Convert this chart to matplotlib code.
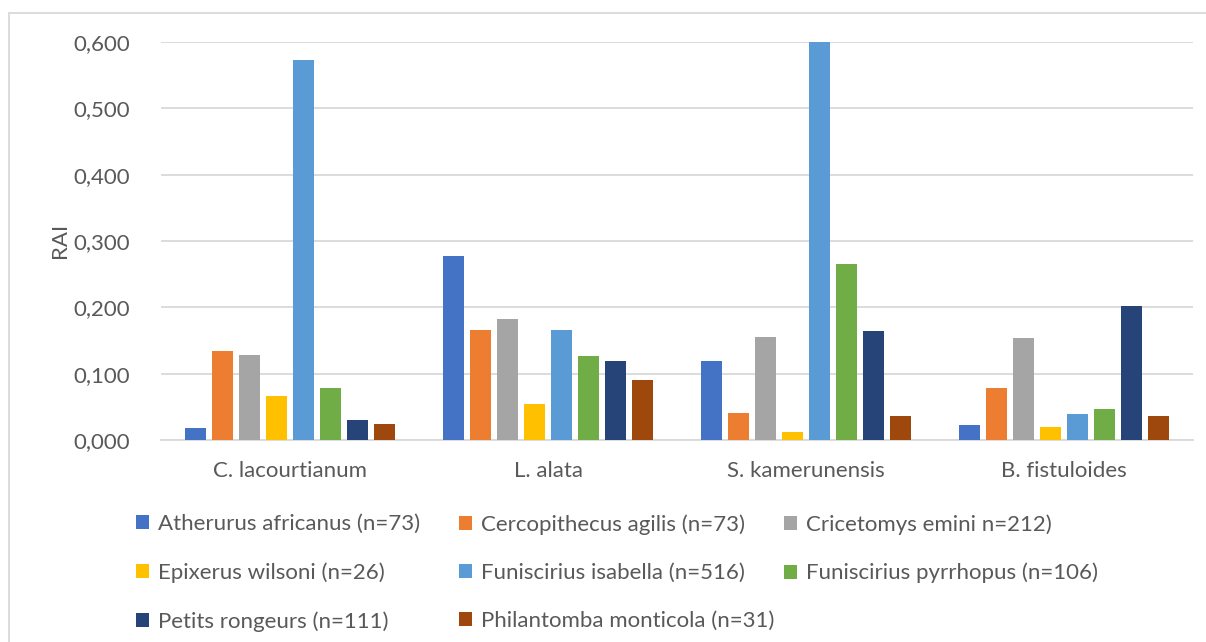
import numpy as np
import matplotlib
matplotlib.use('Agg')
from matplotlib import pyplot as plt
from matplotlib.patches import Rectangle
from matplotlib.ticker import FuncFormatter

plt.rcParams['font.family'] = ['Lato', 'DejaVu Sans']

TEXT_COLOR = '#595959'
GRID_COLOR = '#D9D9D9'

sites = ['C. lacourtianum', 'L. alata', 'S. kamerunensis', 'B. fistuloides']
species = ['Atherurus africanus (n=73)', 'Cercopithecus agilis (n=73)',
           'Cricetomys emini n=212)', 'Epixerus wilsoni (n=26)',
           'Funiscirius isabella (n=516)', 'Funiscirius pyrrhopus (n=106)',
           'Petits rongeurs (n=111)', 'Philantomba monticola (n=31)']
colors = ['#4472C4', '#ED7D31', '#A5A5A5', '#FFC000',
          '#5B9BD5', '#70AD47', '#264478', '#9E480E']

# RAI per species, one value per site (same order as sites)
atherurus = [0.018, 0.277, 0.119, 0.023]
cercopithecus = [0.134, 0.166, 0.040, 0.079]
cricetomys = [0.128, 0.182, 0.155, 0.154]
epixerus = [0.066, 0.055, 0.012, 0.019]
fun_isabella = [0.573, 0.166, 0.615, 0.039]
fun_pyrrhopus = [0.079, 0.126, 0.266, 0.047]
petits_rongeurs = [0.030, 0.119, 0.164, 0.202]
philantomba = [0.024, 0.091, 0.036, 0.036]

series = [atherurus, cercopithecus, cricetomys, epixerus,
          fun_isabella, fun_pyrrhopus, petits_rongeurs, philantomba]

fig = plt.figure(figsize=(12.06, 6.42), dpi=100)
W, H = 1206, 642
ax = fig.add_axes([161 / W, 1 - 440 / H, 1032 / W, 398 / H])

pitch = 27 / 258
width = 21.5 / 258
x = np.arange(len(sites))
handles = []
for i, (vals, col, lab) in enumerate(zip(series, colors, species)):
    off = (i - (len(series) - 1) / 2) * pitch
    b = ax.bar(x + off, vals, width=width, color=col, label=lab, zorder=3)
    handles.append(b)

ax.set_xlim(-0.5, len(sites) - 0.5)
ax.set_ylim(0, 0.6)
ax.set_yticks(np.arange(0, 0.61, 0.1))
ax.yaxis.set_major_formatter(FuncFormatter(lambda v, p: '{:.3f}'.format(v).replace('.', ',')))
ax.set_xticks(x)
ax.set_xticklabels(sites)
ax.tick_params(axis='both', length=0, labelsize=16, labelcolor=TEXT_COLOR)
ax.tick_params(axis='y', pad=22)
ax.tick_params(axis='x', pad=15)
ax.grid(axis='y', color=GRID_COLOR, linewidth=1.3, zorder=0)
for s in ['top', 'right', 'left']:
    ax.spines[s].set_visible(False)
ax.spines['bottom'].set_color(GRID_COLOR)
ax.spines['bottom'].set_linewidth(1.3)

fig.text(60 / W, 1 - 240 / H, 'RAI', rotation=90, ha='center', va='center',
         fontsize=16, color=TEXT_COLOR)

# legend laid out row by row in three equal-width columns
col_x = [136, 459, 784]
for c, x0 in enumerate(col_x):
    idx = list(range(c, len(species), 3))
    leg = fig.legend([handles[i] for i in idx], [species[i] for i in idx],
                     ncol=1, loc='upper left', bbox_to_anchor=(x0 / W, 1 - 514 / H),
                     frameon=False, fontsize=16, handlelength=0.6, handleheight=0.6,
                     handletextpad=0.4, labelspacing=1.27,
                     borderaxespad=0, borderpad=0)
    for t in leg.get_texts():
        t.set_color(TEXT_COLOR)

# chart area border
fig.patches.append(Rectangle((9 / W, -0.1), 1.1, 1 - 13 / H + 0.1,
                             transform=fig.transFigure, fill=False,
                             edgecolor=GRID_COLOR, linewidth=1.3))

fig.savefig('out.png', dpi=100)
